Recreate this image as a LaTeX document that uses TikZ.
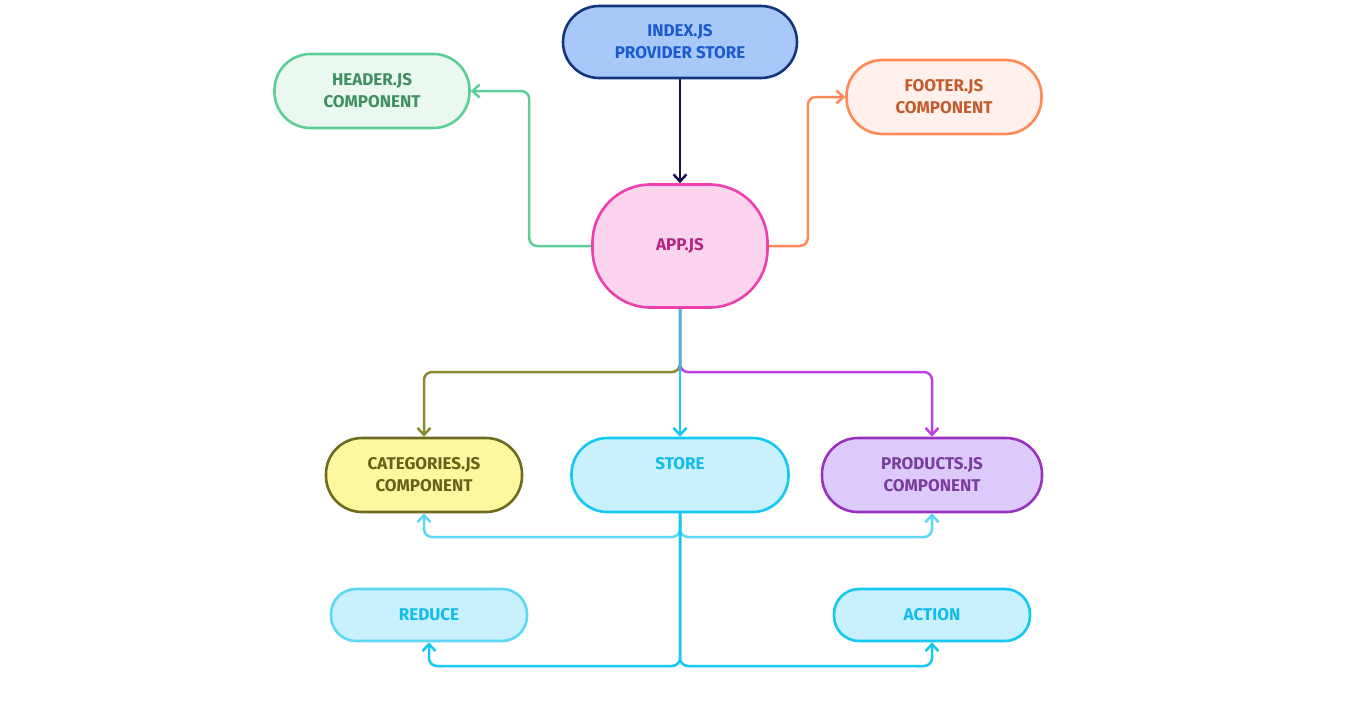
\documentclass[tikz,border=0pt]{standalone}
\usepackage{fontspec}
\setmainfont{Fira Sans}
\usepackage{tikz}
\usetikzlibrary{arrows.meta, positioning}

\definecolor{indexfill}{HTML}{A9C8FA}
\definecolor{indexdraw}{HTML}{14367A}
\definecolor{indextext}{HTML}{1A5BD0}
\definecolor{indexedge}{HTML}{1A1050}
\definecolor{headfill}{HTML}{EAF8F0}
\definecolor{headdraw}{HTML}{5BCF95}
\definecolor{headtext}{HTML}{3F8F60}
\definecolor{footfill}{HTML}{FFF0EB}
\definecolor{footdraw}{HTML}{FF8A55}
\definecolor{foottext}{HTML}{C05C2E}
\definecolor{appfill}{HTML}{FAD4EC}
\definecolor{appdraw}{HTML}{F03EAE}
\definecolor{apptext}{HTML}{B52580}
\definecolor{catfill}{HTML}{FDF8A0}
\definecolor{catdraw}{HTML}{6E6A20}
\definecolor{cattext}{HTML}{67621A}
\definecolor{catedge}{HTML}{8C8A30}
\definecolor{storefill}{HTML}{C8F0FD}
\definecolor{storedraw}{HTML}{14C8F2}
\definecolor{storetext}{HTML}{12BCEA}
\definecolor{storelight}{HTML}{5CD8F5}
\definecolor{prodfill}{HTML}{DCCBFA}
\definecolor{proddraw}{HTML}{9A32C0}
\definecolor{prodtext}{HTML}{7A3C9E}
\definecolor{prodedge}{HTML}{C040E8}

\begin{document}
\begin{tikzpicture}[
          x=1pt, y=-1pt,
          font=\fontsize{17}{22}\selectfont\bfseries,
          box/.style={draw, line width=2.6pt, align=center, inner sep=0pt,
              minimum width=196pt, minimum height=74pt, rounded corners=36pt},
          small/.style={box, minimum height=52pt, rounded corners=25pt},
          arrow/.style={-{Straight Barb[length=7pt, width=13pt]}, line width=2.5pt, rounded corners=8pt}
        ]
        \useasboundingbox (0,0) rectangle (1353,715);

        % -------- Top row --------
        \node[box, minimum width=234pt, minimum height=72pt, fill=indexfill, draw=indexdraw, text=indextext]
          (index) at (680,42) {INDEX.JS\\PROVIDER STORE};
        \node[box, minimum width=195pt, fill=headfill, draw=headdraw, text=headtext]
          (header) at (372,91) {HEADER.JS\\COMPONENT};
        \node[box, minimum width=195pt, fill=footfill, draw=footdraw, text=foottext]
          (footer) at (944,97) {FOOTER.JS\\COMPONENT};

        % -------- App --------
        \node[box, minimum width=175pt, minimum height=123pt, rounded corners=58pt,
          fill=appfill, draw=appdraw, text=apptext] (app) at (680,246) {APP.JS};

        % -------- Components and store --------
        \node[box, fill=catfill, draw=catdraw, text=cattext]
          (cat) at (424,475) {CATEGORIES.JS\\COMPONENT};
        \node[box, minimum width=217pt, fill=storefill, draw=storedraw, text=storetext]
          (store) at (680,475) {\raisebox{6pt}[0pt][0pt]{STORE}};
        \node[box, minimum width=220pt, fill=prodfill, draw=proddraw, text=prodtext]
          (prod) at (932,475) {PRODUCTS.JS\\COMPONENT};

        % -------- Reduce / action --------
        \node[small, fill=storefill, draw=storelight, text=storetext] (reduce) at (429,615) {REDUCE};
        \node[small, fill=storefill, draw=storedraw, text=storetext] (action) at (932,615) {ACTION};

        % split points
        \coordinate (split1) at (680,372);
        \coordinate (split2) at (680,537);
        \coordinate (split3) at (680,666);

        % -------- Arrows --------
        \draw[arrow, indexedge] (index.south) -- (app.north);
        \draw[arrow, headdraw] (app.west) -- ++(-62,0) |- (header.east);
        \draw[arrow, footdraw] (app.east) -- ++(39,0) |- (footer.west);

        \draw[arrow, catedge] (app.south) -- (split1) -| (cat.north);
        \draw[arrow, prodedge] (app.south) -- (split1) -| (prod.north);
        \draw[arrow, storedraw] (app.south) -- (store.north);

        \draw[arrow, storelight] (store.south) -- (split2) -| (cat.south);
        \draw[arrow, storelight] (store.south) -- (split2) -| (prod.south);
        \draw[arrow, storedraw] (store.south) -- (split3) -| (reduce.south);
        \draw[arrow, storedraw] (store.south) -- (split3) -| (action.south);

      \end{tikzpicture}
\end{document}
